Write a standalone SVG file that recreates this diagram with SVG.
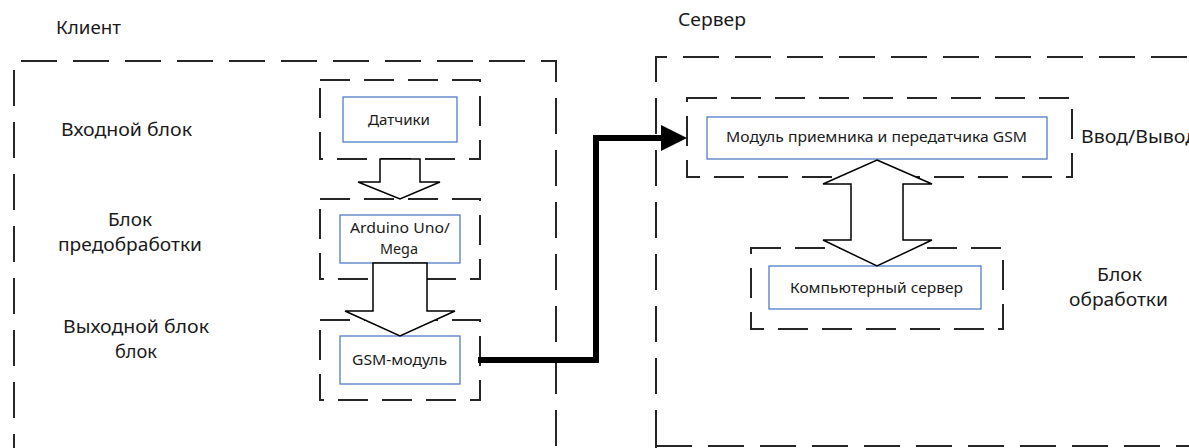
<svg xmlns="http://www.w3.org/2000/svg" width="1189" height="448" viewBox="0 0 1189 448">
<style>
  .outer { fill: none; stroke: #262626; stroke-width: 2; stroke-dasharray: 36 16; }
  .inner { fill: none; stroke: #262626; stroke-width: 2; stroke-dasharray: 30 14; }
  .blue { fill: #ffffff; stroke: #4472C4; stroke-width: 1.2; }
  .barrow { fill: #ffffff; stroke: #000000; stroke-width: 1.5; stroke-linejoin: miter; }
  .lbl { font-family: "Noto Sans", "Open Sans", sans-serif; font-size: 18px; fill: #1a1a1a; }
  .btxt { font-family: "Noto Sans", "Open Sans", sans-serif; font-size: 15px; fill: #1a1a1a; }
  .conn { fill: none; stroke: #000000; stroke-width: 6; stroke-linejoin: miter; }
</style>
<defs>
  <marker id="arr" markerUnits="userSpaceOnUse" markerWidth="26" markerHeight="26" viewBox="0 0 26 26" refX="1" refY="13" orient="auto">
    <path d="M0,0 L26,13 L0,26 Z" fill="#000000"/>
  </marker>
</defs>
<rect width="1189" height="448" fill="#ffffff"/>

<g id="client">
  <path class="outer" d="M14,470 V61 H556 V470"/>
  <text class="lbl" x="56" y="34" textLength="65" lengthAdjust="spacingAndGlyphs">Клиент</text>
  <text class="lbl" x="61" y="136" textLength="131" lengthAdjust="spacingAndGlyphs">Входной блок</text>
  <text class="lbl" x="108" y="226" textLength="44" lengthAdjust="spacingAndGlyphs">Блок</text>
  <text class="lbl" x="58" y="251" textLength="144" lengthAdjust="spacingAndGlyphs">предобработки</text>
  <text class="lbl" x="63" y="333" textLength="146" lengthAdjust="spacingAndGlyphs">Выходной блок</text>
  <text class="lbl" x="115" y="358" textLength="42" lengthAdjust="spacingAndGlyphs">блок</text>
</g>

<g id="server">
  <path class="outer" d="M656,470 V446 M656,446 V57 H1200 M656,446 H1200"/>
  <text class="lbl" x="678" y="26" textLength="68" lengthAdjust="spacingAndGlyphs">Сервер</text>
  <text class="lbl" x="1081" y="143" textLength="116" lengthAdjust="spacingAndGlyphs">Ввод/Вывод</text>
  <text class="lbl" x="1097" y="281" textLength="45" lengthAdjust="spacingAndGlyphs">Блок</text>
  <text class="lbl" x="1069" y="306" textLength="99" lengthAdjust="spacingAndGlyphs">обработки</text>
</g>

<g id="sensors">
  <rect class="inner" x="320" y="80" width="160" height="79"/>
  <rect class="blue" x="343" y="97" width="114" height="45"/>
  <text class="btxt" x="368" y="125" textLength="62" lengthAdjust="spacingAndGlyphs">Датчики</text>
</g>

<g id="arduino">
  <rect class="inner" x="320" y="199" width="160" height="80"/>
  <rect class="blue" x="340" y="215" width="120" height="48"/>
  <text class="btxt" x="350" y="233" textLength="100" lengthAdjust="spacingAndGlyphs">Arduino Uno/</text>
  <text class="btxt" x="380" y="254" textLength="38" lengthAdjust="spacingAndGlyphs">Mega</text>
</g>

<g id="gsm">
  <rect class="inner" x="320" y="320" width="160" height="80"/>
  <rect class="blue" x="340" y="336" width="120" height="48"/>
  <text class="btxt" x="352" y="365" textLength="95" lengthAdjust="spacingAndGlyphs">GSM-модуль</text>
</g>

<g id="transceiver">
  <rect class="inner" x="687" y="98" width="385" height="79"/>
  <rect class="blue" x="707" y="117" width="340" height="42"/>
  <text class="btxt" x="726" y="142" textLength="301" lengthAdjust="spacingAndGlyphs">Модуль приемника и передатчика GSM</text>
</g>

<g id="computer">
  <rect class="inner" x="751" y="248" width="252" height="81"/>
  <rect class="blue" x="769" y="266" width="212" height="43"/>
  <text class="btxt" x="790" y="293" textLength="173" lengthAdjust="spacingAndGlyphs">Компьютерный сервер</text>
</g>

<g id="connectors">
  <polygon class="barrow" points="380,159 420,159 420,182 440,182 400,199 358,182 380,182"/>
  <polygon class="barrow" points="373,263 427,263 427,311 455,311 400,336 345,311 373,311"/>
  <polygon class="barrow" points="877,160 932,184 903,184 903,240 932,240 877,266 823,240 851,240 851,184 823,184"/>
  <path class="conn" d="M478,360 H596 V138 H662" marker-end="url(#arr)"/>
</g>
</svg>
